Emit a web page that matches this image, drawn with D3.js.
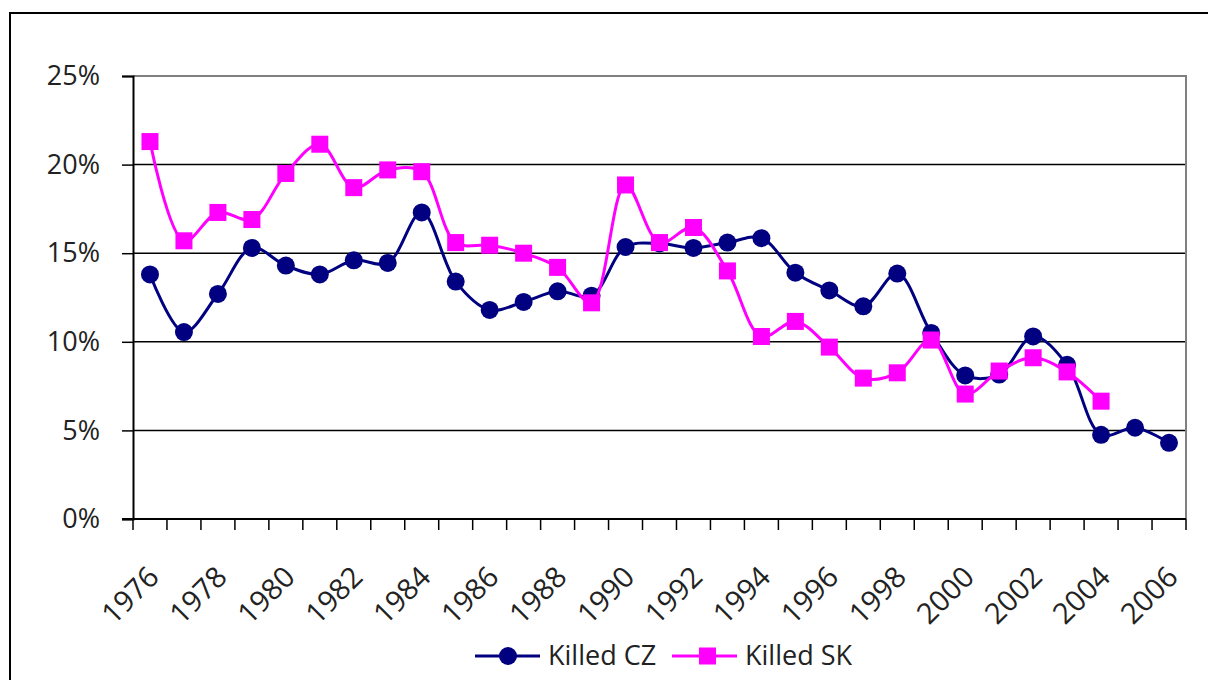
<!DOCTYPE html>
<html>
<head>
<meta charset="utf-8">
<script src="https://cdn.jsdelivr.net/npm/d3@7"></script>
<style>
  body { margin: 0; background: #fff; }
  svg { font-family: "Open Sans", sans-serif; }
</style>
</head>
<body>
<div id="chart"></div>
<script>
// years on the category axis
const years = d3.range(1976, 2007);

// share killed, in percent
const killedCZ = [13.8, 10.55, 12.7, 15.3, 14.3, 13.8, 14.6, 14.45, 17.3, 13.4,
    11.8, 12.25, 12.85, 12.6, 15.35, 15.55, 15.3, 15.6, 15.85, 13.9,
    12.9, 12.0, 13.85, 10.5, 8.1, 8.15, 10.3, 8.7, 4.75, 5.15, 4.3];
const killedSK = [21.3, 15.7, 17.3, 16.9, 19.5, 21.15, 18.7, 19.7, 19.6, 15.6,
    15.45, 15.0, 14.2, 12.2, 18.85, 15.6, 16.45, 14.0, 10.3, 11.15,
    9.7, 7.95, 8.25, 10.1, 7.05, 8.35, 9.1, 8.3, 6.65, null, null];

const yTicks = [0, 5, 10, 15, 20, 25];

const width = 1208, height = 680;
const margin = {left: 133, right: 22, top: 76, bottom: 161};

let svg = d3.select("#chart").append("svg")
    .attr("width", width)
    .attr("height", height);

// outer chart frame
svg.append("rect")
    .attr("x", 10).attr("y", 13)
    .attr("width", 1220).attr("height", 700)
    .attr("fill", "none")
    .attr("stroke", "#000")
    .attr("stroke-width", 2);

let x = d3.scaleBand()
    .domain(years)
    .range([margin.left, width - margin.right])
    .padding(0);

let y = d3.scaleLinear()
    .domain([0, 25])
    .range([height - margin.bottom, margin.top]);

let plot = svg.append("g");

// gridlines
plot.append("g")
    .selectAll("line")
    .data(yTicks.filter(d => d > 0 && d < 25))
    .enter().append("line")
    .attr("x1", margin.left).attr("x2", width - margin.right)
    .attr("y1", d => y(d)).attr("y2", d => y(d))
    .attr("stroke", "#000")
    .attr("stroke-width", 1.5);

// top and right border of plot area (gray)
plot.append("path")
    .attr("d", `M${margin.left},${y(25)}H${width - margin.right}V${y(0)}`)
    .attr("fill", "none")
    .attr("stroke", "#808080")
    .attr("stroke-width", 2);

// y axis
let yAxis = svg.append("g")
    .attr("transform", `translate(${margin.left},0)`)
    .call(d3.axisLeft(y).tickValues(yTicks).tickSize(11).tickPadding(22)
        .tickFormat(d => d + "%"));
yAxis.select(".domain").attr("stroke", "#000").attr("stroke-width", 2);
yAxis.selectAll(".tick line").attr("stroke", "#000").attr("stroke-width", 1.5);
yAxis.selectAll("text")
    .attr("font-size", 27)
    .attr("font-family", "Open Sans")
    .attr("fill", "#222");

// x axis: ticks on category boundaries
let xAxisG = svg.append("g")
    .attr("transform", `translate(0,${y(0)})`);
xAxisG.append("line")
    .attr("x1", margin.left - 11).attr("x2", width - margin.right)
    .attr("stroke", "#000").attr("stroke-width", 2);
xAxisG.selectAll(".xtick")
    .data(years.concat([2007]))
    .enter().append("line")
    .attr("class", "xtick")
    .attr("x1", d => d === 2007 ? width - margin.right : x(d))
    .attr("x2", d => d === 2007 ? width - margin.right : x(d))
    .attr("y1", 0).attr("y2", 11)
    .attr("stroke", "#000").attr("stroke-width", 1.5);

xAxisG.selectAll(".xlabel")
    .data(years.filter(d => d % 2 === 0))
    .enter().append("text")
    .attr("class", "xlabel")
    .attr("transform", d => `translate(${x(d) + x.bandwidth() / 2 - 4},${45}) rotate(-45)`)
    .attr("text-anchor", "end")
    .attr("dy", "0.72em")
    .attr("font-size", 29)
    .attr("fill", "#222")
    .text(d => d);

const cx = d => x(d) + x.bandwidth() / 2;

function drawSeries(values, color, shape) {
    let pts = years.map((yr, i) => ({yr: yr, v: values[i]})).filter(d => d.v != null);
    let line = d3.line()
        .x(d => cx(d.yr))
        .y(d => y(d.v))
        .curve(d3.curveCatmullRom.alpha(0.5));
    plot.append("path")
        .datum(pts)
        .attr("d", line)
        .attr("fill", "none")
        .attr("stroke", color)
        .attr("stroke-width", 3);
    if (shape === "circle") {
        plot.append("g").selectAll("circle")
            .data(pts)
            .enter().append("circle")
            .attr("cx", d => cx(d.yr))
            .attr("cy", d => y(d.v))
            .attr("r", 9)
            .attr("fill", color);
    } else {
        plot.append("g").selectAll("rect")
            .data(pts)
            .enter().append("rect")
            .attr("x", d => cx(d.yr) - 8.5)
            .attr("y", d => y(d.v) - 8.5)
            .attr("width", 17).attr("height", 17)
            .attr("fill", color);
    }
}

drawSeries(killedCZ, "#000080", "circle");
drawSeries(killedSK, "#ff00ff", "square");

// legend
const legendItems = [
    {name: "Killed CZ", color: "#000080", shape: "circle", x: 475},
    {name: "Killed SK", color: "#ff00ff", shape: "square", x: 672}
];
let legend = svg.append("g").attr("transform", "translate(0,656)");
legendItems.forEach(item => {
    let g = legend.append("g").attr("transform", `translate(${item.x},0)`);
    g.append("line").attr("x1", 0).attr("x2", 65)
        .attr("stroke", item.color).attr("stroke-width", 3);
    if (item.shape === "circle") {
        g.append("circle").attr("cx", 33).attr("r", 9).attr("fill", item.color);
    } else {
        g.append("rect").attr("x", 27).attr("y", -8.5)
            .attr("width", 17).attr("height", 17).attr("fill", item.color);
    }
    g.append("text")
        .attr("x", 73).attr("y", 9)
        .attr("font-size", 27)
        .attr("fill", "#222")
        .text(item.name);
});
</script>
</body>
</html>
